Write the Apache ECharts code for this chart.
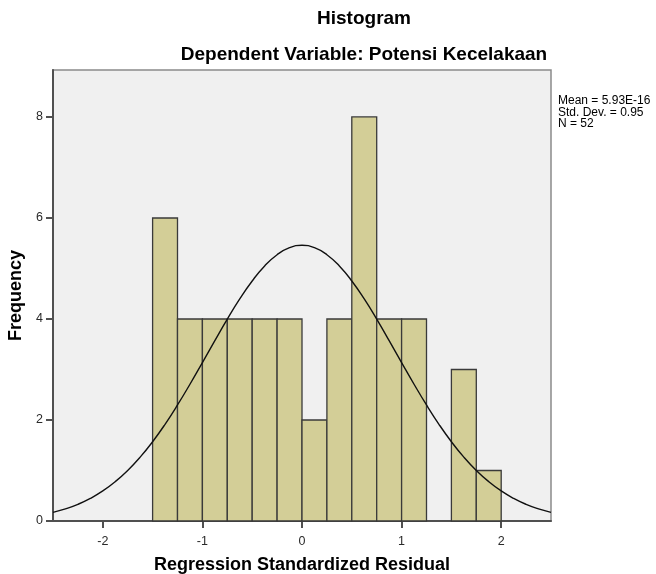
<!DOCTYPE html>
<html>
<head>
<meta charset="utf-8">
<script src="https://cdn.jsdelivr.net/npm/echarts@6/dist/echarts.min.js"></script>
<style>html,body{margin:0;padding:0;background:#fff}#c{width:656px;height:574px}</style>
</head>
<body>
<div id="c"></div>
<script>
// Histogram bins (left edge, right edge) and frequencies
const binStarts = [-1.5, -1.25, -1.0, -0.75, -0.5, -0.25, 0.0, 0.25, 0.5, 0.75, 1.0, 1.25, 1.5, 1.75];
const binEnds   = [-1.25, -1.0, -0.75, -0.5, -0.25, 0.0, 0.25, 0.5, 0.75, 1.0, 1.25, 1.5, 1.75, 2.0];
const counts    = [6, 4, 4, 4, 4, 4, 2, 4, 8, 4, 4, 0, 3, 1];
// Normal curve points
const curveX = [-2.5,-2.375,-2.25,-2.125,-2.0,-1.875,-1.75,-1.625,-1.5,-1.375,-1.25,-1.125,-1.0,-0.875,-0.75,-0.625,-0.5,-0.375,-0.25,-0.125,0,
                0.125,0.25,0.375,0.5,0.625,0.75,0.875,1.0,1.125,1.25,1.375,1.5,1.625,1.75,1.875,2.0,2.125,2.25,2.375,2.5];
const curveY = [0.171,0.240,0.330,0.447,0.595,0.779,1.001,1.264,1.570,1.915,2.297,2.708,3.137,3.572,3.998,4.397,4.753,5.050,5.273,5.412,5.459,
                5.412,5.273,5.050,4.753,4.397,3.998,3.572,3.137,2.708,2.297,1.915,1.570,1.264,1.001,0.779,0.595,0.447,0.330,0.240,0.171];
const xTicks = [-2, -1, 0, 1, 2];
const yTicks = [0, 2, 4, 6, 8];
const statsLines = ['Mean = 5.93E-16', 'Std. Dev. = 0.95', 'N = 52'];

const chart = echarts.init(document.getElementById('c'));
const histData = binStarts.map((s, i) => [s, binEnds[i], counts[i]]).filter(d => d[2] > 0);
const curveData = curveX.map((x, i) => [x, curveY[i]]);
const ff = 'Liberation Sans, Arial, sans-serif';

chart.setOption({
  animation: false,
  backgroundColor: '#ffffff',
  title: [
    { text: 'Histogram', left: 364, top: 9, textAlign: 'center', padding: 0,
      textStyle: { fontFamily: ff, fontSize: 19, fontWeight: 'bold', color: '#000' } },
    { text: 'Dependent Variable: Potensi Kecelakaan', left: 364, top: 45, textAlign: 'center', padding: 0,
      textStyle: { fontFamily: ff, fontSize: 19, fontWeight: 'bold', color: '#000' } },
    { text: statsLines.join('\n'), left: 558, top: 95, padding: 0,
      textStyle: { fontFamily: ff, fontSize: 12, fontWeight: 'normal', color: '#000', lineHeight: 11.5 } }
  ],
  grid: { left: 53, right: 105, top: 70, bottom: 53, show: true, backgroundColor: '#f0f0f0',
          borderColor: '#8a8a8a', borderWidth: 1.5, containLabel: false, outerBoundsMode: 'none' },
  xAxis: {
    type: 'value', min: -2.5, max: 2.5,
    name: 'Regression Standardized Residual', nameLocation: 'middle', nameGap: 35,
    nameTextStyle: { fontFamily: ff, fontSize: 18, fontWeight: 'bold', color: '#000' },
    axisLine: { show: true, onZero: false, lineStyle: { color: '#505050', width: 2 } },
    axisTick: { show: true, length: 7, customValues: xTicks, lineStyle: { color: '#505050', width: 2 } },
    axisLabel: { customValues: xTicks, fontFamily: ff, fontSize: 12.5, color: '#2a2a2a', margin: 14 },
    splitLine: { show: false }
  },
  yAxis: {
    type: 'value', min: 0, max: 8.93,
    name: 'Frequency', nameLocation: 'middle', nameGap: 25,
    nameTextStyle: { fontFamily: ff, fontSize: 18, fontWeight: 'bold', color: '#000' },
    axisLine: { show: true, onZero: false, lineStyle: { color: '#505050', width: 2 } },
    axisTick: { show: true, length: 7, customValues: yTicks, lineStyle: { color: '#505050', width: 2 } },
    axisLabel: { customValues: yTicks, fontFamily: ff, fontSize: 12.5, color: '#2a2a2a', margin: 10 },
    splitLine: { show: false }
  },
  series: [
    {
      type: 'custom',
      data: histData,
      encode: { x: [0, 1], y: 2 },
      renderItem: function (params, api) {
        const p0 = api.coord([api.value(0), api.value(2)]);
        const p1 = api.coord([api.value(1), 0]);
        return {
          type: 'rect',
          shape: { x: p0[0], y: p0[1], width: p1[0] - p0[0], height: p1[1] - p0[1] },
          style: { fill: '#d3ce97', stroke: '#3a3a3a', lineWidth: 1.3 }
        };
      },
      z: 2
    },
    {
      type: 'line',
      data: curveData,
      smooth: true,
      symbol: 'none',
      lineStyle: { color: '#111', width: 1.4 },
      z: 3
    }
  ]
});
</script>
</body>
</html>
